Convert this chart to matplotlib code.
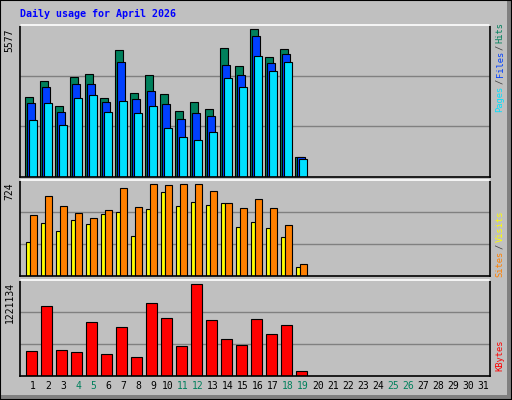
import matplotlib
matplotlib.use("Agg")
import matplotlib.pyplot as plt
from matplotlib.patches import Rectangle

days = list(range(1, 32))
data_days = list(range(1, 20))
hits = [3003, 3609, 2663, 3761, 3874, 2966, 4783, 3155, 3836, 3117, 2473, 2814, 2549, 4858, 4177, 5577, 4518, 4821, 770]
files = [2776, 3382, 2436, 3496, 3496, 2814, 4329, 2928, 3231, 2738, 2171, 2398, 2284, 4215, 3836, 5313, 4291, 4631, 745]
pages = [2133, 2776, 1981, 2966, 3079, 2436, 2852, 2398, 2663, 1868, 1527, 1413, 1716, 3723, 3382, 4556, 3988, 4329, 694]
sites = [266, 416, 353, 440, 408, 487, 503, 313, 527, 661, 550, 582, 558, 574, 384, 424, 377, 305, 68]
visits = [479, 629, 550, 495, 456, 519, 692, 542, 724, 716, 724, 724, 669, 574, 535, 606, 535, 400, 92]
kbytes = [325340, 927000, 338700, 312000, 713000, 285200, 646200, 245100, 967100, 766500,
          392200, 1221134, 739800, 485800, 405600, 753200, 552600, 673000, 57900]
weekends = [4, 5, 11, 12, 18, 19, 25, 26]
title = "Daily usage for April 2026"

BG = "#c0c0c0"
C_HITS, C_FILES, C_PAGES = "#00805c", "#0040ff", "#00e0ff"
C_SITES, C_VISITS, C_KB = "#ffff00", "#ff8000", "#ff0000"
MONO = "DejaVu Sans Mono"

fig = plt.figure(figsize=(5.12, 4.0), dpi=100, facecolor=BG)
W, H = 512, 400

def axes_px(top, bot):
    return fig.add_axes([20 / W, 1 - bot / H, 470 / W, (bot - top) / H])

ax1 = axes_px(25, 177)
ax2 = axes_px(180.3, 276)
ax3 = axes_px(280, 375.7)

def style(ax, ymax, label):
    ax.set_facecolor(BG)
    ax.set_xlim(0.133, 31.47)
    ax.set_ylim(0, ymax)
    for y in (ymax / 3, 2 * ymax / 3):
        ax.axhline(y, color="#808080", lw=1, zorder=0)
    ax.set_yticks([])
    ax.set_xticks([])
    ax.spines["left"].set_color("black")
    ax.spines["bottom"].set_color("black")
    ax.spines["right"].set_color("black")
    ax.spines["top"].set_color("white")
    for s in ax.spines.values():
        s.set_linewidth(1.2)
    ax.text(-0.012, 0.98, label, transform=ax.transAxes, rotation=90, ha="right", va="top",
            fontsize=7, family=MONO, color="black")

ek = dict(edgecolor="black", linewidth=0.8, align="edge")
ymax1 = 5577 / 0.972
style(ax1, ymax1, "5577")
ax1.bar([d - 0.53 for d in data_days], hits, width=0.53, color=C_HITS, **ek)
ax1.bar([d - 0.40 for d in data_days], files, width=0.53, color=C_FILES, **ek)
ax1.bar([d - 0.27 for d in data_days], pages, width=0.53, color=C_PAGES, **ek)

ymax2 = 724 * 287 / 275
style(ax2, ymax2, "724")
ax2.bar([d - 0.49 for d in data_days], sites, width=0.27, color=C_SITES, **ek)
ax2.bar([d - 0.22 for d in data_days], visits, width=0.47, color=C_VISITS, **ek)

ymax3 = 1221134 * 287 / 274
style(ax3, ymax3, "1221134")
ax3.bar([d - 0.44 for d in data_days], kbytes, width=0.69, color=C_KB, **ek)
ax3.set_xticks(days)
ax3.set_xticklabels([str(d) for d in days], fontsize=7, family=MONO)
ax3.tick_params(axis="x", length=0, pad=4)
for lab, d in zip(ax3.get_xticklabels(), days):
    lab.set_color(C_HITS if d in weekends else "black")

FS_R = 6.3
ADV = 0.602 * FS_R * 100 / 72

def right_label(parts, y_bottom_px):
    # parts listed bottom to top
    y = y_bottom_px
    for txt, col in parts:
        fig.text(500 / W, 1 - y / H, txt, rotation=90, ha="center", va="bottom",
                 fontsize=FS_R, family=MONO, color=col)
        y -= ADV * len(txt) + 1.5

right_label([("Pages", C_PAGES), ("/", "#404040"), ("Files", C_FILES), ("/", "#404040"), ("Hits", C_HITS)], 112)
right_label([("Sites", C_VISITS), ("/", "#404040"), ("Visits", C_SITES)], 277)
right_label([("KBytes", C_KB)], 371)

fig.text(20 / W, 1 - 14 / H, title, fontsize=7.2, family=MONO, weight="bold",
         color="#0000ff", ha="left", va="center")

# frame / bevel
fig.patches.append(Rectangle((1 - 5 / W, 0), 5 / W, 1, transform=fig.transFigure,
                             facecolor="#808080", edgecolor="none"))
fig.patches.append(Rectangle((0, 0), 1, 5 / H, transform=fig.transFigure,
                             facecolor="#808080", edgecolor="none"))
fig.patches.append(Rectangle((0, 0), 1, 1, transform=fig.transFigure, fill=False,
                             edgecolor="black", linewidth=1.5))

fig.savefig("out.png", dpi=100, facecolor=BG)
